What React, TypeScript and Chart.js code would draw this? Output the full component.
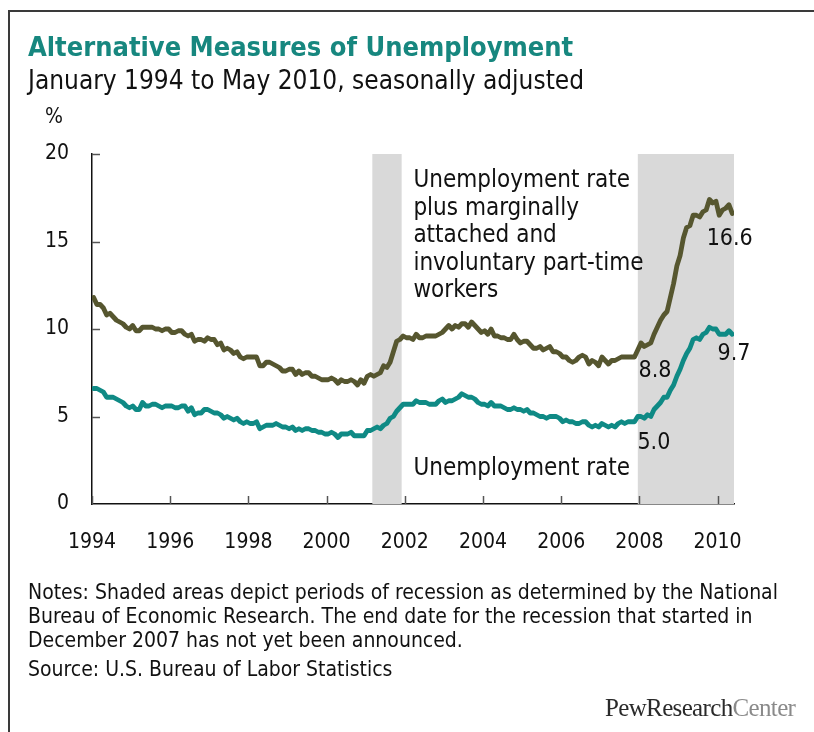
import React, { useEffect, useRef } from "react";
import { Chart, registerables } from "chart.js";

Chart.register(...registerables);

// ---------- DATA ----------
const START_YEAR = 1994;

// Unemployment rate plus marginally attached and involuntary part-time workers (U-6), Jan 1994 - May 2010
const u6: number[] = [
  11.8, 11.4, 11.4, 11.2, 10.8, 10.9, 10.7, 10.5, 10.4, 10.3, 10.1, 10.0,
  10.2, 9.9, 9.9, 10.1, 10.1, 10.1, 10.1, 10.0, 10.0, 9.9, 10.0, 10.0,
  9.8, 9.8, 9.9, 9.9, 9.7, 9.6, 9.7, 9.3, 9.4, 9.4, 9.3, 9.5,
  9.4, 9.4, 9.1, 9.2, 8.8, 8.9, 8.8, 8.6, 8.7, 8.4, 8.3, 8.4,
  8.4, 8.4, 8.4, 7.9, 7.9, 8.1, 8.1, 8.0, 7.9, 7.8, 7.6, 7.6,
  7.7, 7.7, 7.4, 7.6, 7.4, 7.5, 7.5, 7.3, 7.3, 7.2, 7.1, 7.1,
  7.1, 7.2, 7.1, 6.9, 7.1, 7.0, 7.0, 7.1, 7.0, 6.8, 7.1, 6.9,
  7.3, 7.4, 7.3, 7.4, 7.5, 7.9, 7.8, 8.1, 8.7, 9.3, 9.4, 9.6,
  9.5, 9.5, 9.4, 9.7, 9.5, 9.5, 9.6, 9.6, 9.6, 9.6, 9.7, 9.8,
  10.0, 10.2, 10.0, 10.2, 10.1, 10.3, 10.3, 10.1, 10.4, 10.2, 10.0, 9.8,
  9.9, 9.7, 10.0, 9.6, 9.6, 9.5, 9.5, 9.4, 9.4, 9.7, 9.4, 9.2,
  9.3, 9.3, 9.1, 8.9, 8.9, 9.0, 8.8, 8.9, 9.0, 8.7, 8.7, 8.6,
  8.4, 8.4, 8.2, 8.1, 8.2, 8.4, 8.5, 8.4, 8.0, 8.2, 8.1, 7.9,
  8.4, 8.2, 8.0, 8.2, 8.2, 8.3, 8.4, 8.4, 8.4, 8.4, 8.4, 8.8,
  9.2, 9.0, 9.1, 9.2, 9.7, 10.1, 10.5, 10.8, 11.0, 11.8, 12.6, 13.6,
  14.2, 15.2, 15.8, 15.9, 16.5, 16.5, 16.4, 16.7, 16.8, 17.4, 17.2, 17.3,
  16.5, 16.8, 16.9, 17.1, 16.6,
];

// Official unemployment rate (U-3), Jan 1994 - May 2010
const u3: number[] = [
  6.6, 6.6, 6.5, 6.4, 6.1, 6.1, 6.1, 6.0, 5.9, 5.8, 5.6, 5.5,
  5.6, 5.4, 5.4, 5.8, 5.6, 5.6, 5.7, 5.7, 5.6, 5.5, 5.6, 5.6,
  5.6, 5.5, 5.5, 5.6, 5.6, 5.3, 5.5, 5.1, 5.2, 5.2, 5.4, 5.4,
  5.3, 5.2, 5.2, 5.1, 4.9, 5.0, 4.9, 4.8, 4.9, 4.7, 4.6, 4.7,
  4.6, 4.6, 4.7, 4.3, 4.4, 4.5, 4.5, 4.5, 4.6, 4.5, 4.4, 4.4,
  4.3, 4.4, 4.2, 4.3, 4.2, 4.3, 4.3, 4.2, 4.2, 4.1, 4.1, 4.0,
  4.0, 4.1, 4.0, 3.8, 4.0, 4.0, 4.0, 4.1, 3.9, 3.9, 3.9, 3.9,
  4.2, 4.2, 4.3, 4.4, 4.3, 4.5, 4.6, 4.9, 5.0, 5.3, 5.5, 5.7,
  5.7, 5.7, 5.7, 5.9, 5.8, 5.8, 5.8, 5.7, 5.7, 5.7, 5.9, 6.0,
  5.8, 5.9, 5.9, 6.0, 6.1, 6.3, 6.2, 6.1, 6.1, 6.0, 5.8, 5.7,
  5.7, 5.6, 5.8, 5.6, 5.6, 5.6, 5.5, 5.4, 5.4, 5.5, 5.4, 5.4,
  5.3, 5.4, 5.2, 5.2, 5.1, 5.0, 5.0, 4.9, 5.0, 5.0, 5.0, 4.9,
  4.7, 4.8, 4.7, 4.7, 4.6, 4.6, 4.7, 4.7, 4.5, 4.4, 4.5, 4.4,
  4.6, 4.5, 4.4, 4.5, 4.4, 4.6, 4.7, 4.6, 4.7, 4.7, 4.7, 5.0,
  5.0, 4.9, 5.1, 5.0, 5.4, 5.6, 5.8, 6.1, 6.1, 6.5, 6.8, 7.3,
  7.7, 8.2, 8.6, 8.9, 9.4, 9.5, 9.4, 9.7, 9.8, 10.1, 10.0, 10.0,
  9.7, 9.7, 9.7, 9.9, 9.7,
];

const xTickYears: number[] = [1994, 1996, 1998, 2000, 2002, 2004, 2006, 2008, 2010];
const yTickValues: number[] = [0, 5, 10, 15, 20];
const recessionStarts: number[] = [2001.17, 2007.96];
const recessionEnds: number[] = [2001.92, 2010.42];

const X_MIN = 1994;
const X_MAX = 2010.42;
const Y_MIN = 0;
const Y_MAX = 20;

const u6Label = ["Unemployment rate", "plus marginally", "attached and", "involuntary part-time", "workers"];
const u3Label = "Unemployment rate";

// ---------- STYLE ----------
const FONT = "'DejaVu Sans Condensed', 'DejaVu Sans', sans-serif";
const TEAL = "#0f8a85";
const OLIVE = "#56562f";
const TITLE_TEAL = "#17877f";

const monthX = (i: number) => START_YEAR + (i + 0.5) / 12;

const shadePlugin = {
  id: "recessionShade",
  beforeDatasetsDraw(chart: any) {
    const { ctx, chartArea, scales } = chart;
    const xs = scales.x;
    ctx.save();
    ctx.fillStyle = "#d9d9d9";
    recessionStarts.forEach((s, k) => {
      const x1 = xs.getPixelForValue(s);
      const x2 = xs.getPixelForValue(recessionEnds[k]);
      ctx.fillRect(x1, chartArea.top, x2 - x1, chartArea.bottom - chartArea.top);
    });
    ctx.restore();
  },
};

const ticksPlugin = {
  id: "innerTicks",
  afterDraw(chart: any) {
    const { ctx, chartArea, scales } = chart;
    ctx.save();
    ctx.strokeStyle = "#555";
    ctx.lineWidth = 1.5;
    xTickYears.forEach((v) => {
      const x = Math.round(scales.x.getPixelForValue(v)) + 0.5;
      ctx.beginPath();
      ctx.moveTo(x, chartArea.bottom);
      ctx.lineTo(x, chartArea.bottom - 8);
      ctx.stroke();
    });
    yTickValues.forEach((v) => {
      if (v === 0) return;
      const y = Math.round(scales.y.getPixelForValue(v)) + 0.5;
      ctx.beginPath();
      ctx.moveTo(chartArea.left, y);
      ctx.lineTo(chartArea.left + 8, y);
      ctx.stroke();
    });
    ctx.restore();
  },
};

const labelsPlugin = {
  id: "seriesLabels",
  afterDatasetsDraw(chart: any) {
    const { ctx, scales } = chart;
    const px = (v: number) => scales.x.getPixelForValue(v);
    const py = (v: number) => scales.y.getPixelForValue(v);
    ctx.save();
    ctx.fillStyle = "#111";
    ctx.textAlign = "left";
    ctx.textBaseline = "alphabetic";
    ctx.font = `24px ${FONT}`;
    const x0 = px(2002.22);
    const y0 = py(18.11);
    u6Label.forEach((line, k) => ctx.fillText(line, x0, y0 + k * 27.5));
    ctx.fillText(u3Label, px(2002.22), py(1.66));
    ctx.font = `23px ${FONT}`;
    ctx.fillText(u6[u6.length - 1].toFixed(1), px(2009.72), py(14.8));
    ctx.fillText(u3[u3.length - 1].toFixed(1), px(2010.0), py(8.23));
    const dec07 = 13 * 12 + 11;
    ctx.fillText(u6[dec07].toFixed(1), px(2007.98), py(7.26));
    ctx.fillText(u3[dec07].toFixed(1), px(2007.95), py(3.14));
    ctx.restore();
  },
};

export default function App() {
  const canvasRef = useRef<HTMLCanvasElement | null>(null);

  useEffect(() => {
    if (!canvasRef.current) return;
    const chart = new Chart(canvasRef.current, {
      type: "line",
      data: {
        datasets: [
          {
            label: "U-6",
            data: u6.map((v, i) => ({ x: monthX(i), y: v })),
            borderColor: OLIVE,
            borderWidth: 4.8,
            pointRadius: 0,
            tension: 0,
            borderJoinStyle: "round",
            borderCapStyle: "round",
          },
          {
            label: "U-3",
            data: u3.map((v, i) => ({ x: monthX(i), y: v })),
            borderColor: TEAL,
            borderWidth: 4.8,
            pointRadius: 0,
            tension: 0,
            borderJoinStyle: "round",
            borderCapStyle: "round",
          },
        ],
      },
      options: {
        responsive: false,
        animation: false,
        devicePixelRatio: 1,
        layout: { padding: { left: 0, top: 154, right: 80, bottom: 0 } },
        plugins: {
          legend: { display: false },
          tooltip: { enabled: false },
        },
        scales: {
          x: {
            type: "linear",
            min: X_MIN,
            max: X_MAX,
            grid: { display: false, drawTicks: false },
            border: { display: true, color: "#111", width: 1.5 },
            afterFit: (s: any) => {
              s.height = 228;
            },
            afterBuildTicks: (s: any) => {
              s.ticks = xTickYears.map((v) => ({ value: v }));
            },
            ticks: {
              padding: 26,
              color: "#111",
              font: { family: FONT, size: 21 },
              maxRotation: 0,
              autoSkip: false,
              callback: (v: any) => String(v),
            },
          },
          y: {
            type: "linear",
            min: Y_MIN,
            max: Y_MAX,
            grid: { display: false, drawTicks: false },
            border: { display: true, color: "#111", width: 1.5 },
            afterFit: (s: any) => {
              s.width = 92;
            },
            afterBuildTicks: (s: any) => {
              s.ticks = yTickValues.map((v) => ({ value: v }));
            },
            ticks: {
              padding: 23,
              color: "#111",
              font: { family: FONT, size: 21 },
              callback: (v: any) => String(v),
            },
          },
        },
      },
      plugins: [shadePlugin, labelsPlugin, ticksPlugin],
    } as any);
    return () => chart.destroy();
  }, []);

  const abs = (left: number, baseline: number, size: number): React.CSSProperties => ({
    position: "absolute",
    left,
    top: baseline - 0.846 * size,
    fontSize: size,
    lineHeight: `${size}px`,
    fontFamily: FONT,
    whiteSpace: "nowrap",
  });

  return (
    <div style={{ position: "fixed", left: 0, top: 0, width: 814, height: 732, background: "#fff", overflow: "hidden" }}>
      <div
        style={{
          position: "absolute",
          left: 8,
          top: 10,
          width: 820,
          height: 740,
          borderTop: "2px solid #3a3a3a",
          borderLeft: "2px solid #3a3a3a",
        }}
      />
      <canvas ref={canvasRef} width={814} height={732} style={{ position: "absolute", left: 0, top: 0, display: "block" }} />
      <div style={{ ...abs(28, 56, 27), color: TITLE_TEAL, fontWeight: "bold" }}>Alternative Measures of Unemployment</div>
      <div style={{ ...abs(28, 89, 26), color: "#111" }}>January 1994 to May 2010, seasonally adjusted</div>
      <div style={{ ...abs(45, 124, 21), color: "#111" }}>%</div>
      <div style={{ ...abs(28, 600, 21), color: "#111" }}>
        Notes: Shaded areas depict periods of recession as determined by the National
      </div>
      <div style={{ ...abs(28, 624, 21), color: "#111" }}>
        Bureau of Economic Research. The end date for the recession that started in
      </div>
      <div style={{ ...abs(28, 648, 21), color: "#111" }}>December 2007 has not yet been announced.</div>
      <div style={{ ...abs(28, 677, 21), color: "#111" }}>Source: U.S. Bureau of Labor Statistics</div>
      <div
        style={{
          position: "absolute",
          left: 605,
          top: 717 - 0.89 * 25,
          fontSize: 25,
          lineHeight: "25px",
          fontFamily: "'Liberation Serif', 'DejaVu Serif', serif",
          letterSpacing: "-0.65px",
          whiteSpace: "nowrap",
        }}
      >
        <span style={{ color: "#2a2a2a" }}>PewResearch</span>
        <span style={{ color: "#8a8a8a" }}>Center</span>
      </div>
    </div>
  );
}
